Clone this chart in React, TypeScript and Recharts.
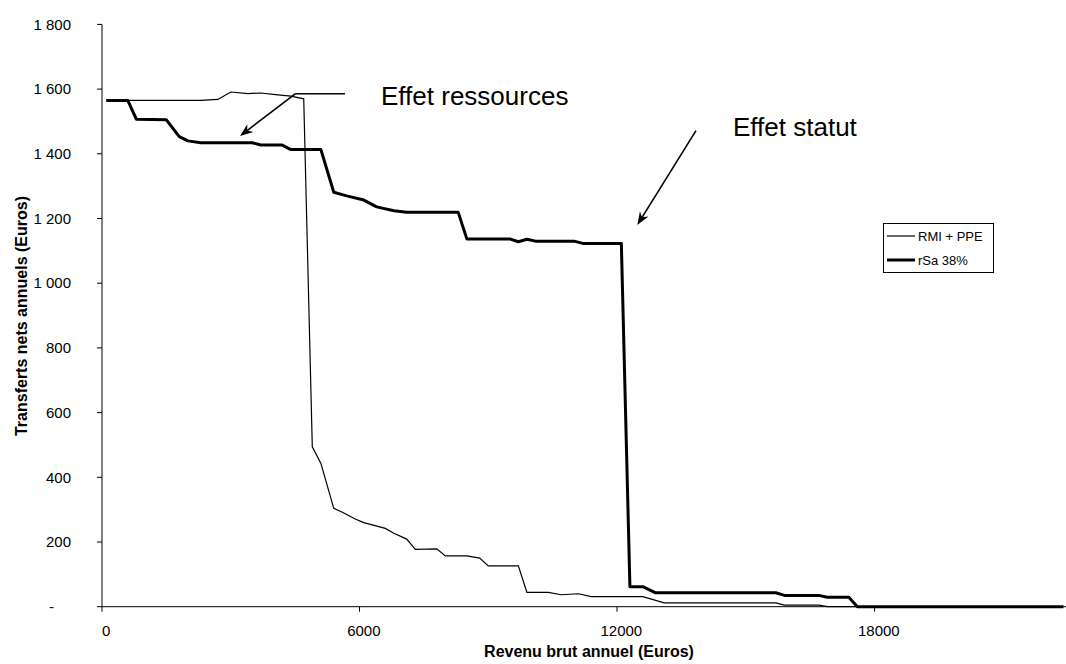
import { LineChart, Line, XAxis, YAxis, Legend } from 'recharts';

// RMI + PPE (thin line)
const rmiIncome = [0, 2200, 2600, 2900, 3300, 3600, 4000, 4300, 4600, 4800, 5000, 5300, 5500, 5800, 6000, 6500, 6700, 7000, 7200, 7700, 7900, 8400, 8700, 8900, 9600, 9800, 10300, 10600, 11000, 11300, 12500, 13000, 15600, 15800, 16600, 16800, 22300];
const rmiTransfer = [1565, 1565, 1568, 1591, 1586, 1588, 1582, 1578, 1570, 494, 443, 304, 292, 271, 260, 242, 227, 209, 177, 179, 157, 157, 150, 126, 126, 44, 44, 37, 40, 31, 31, 12, 12, 5, 5, 0, 0];

// rSa 38% (thick line)
const rsaIncome = [0, 500, 700, 1400, 1700, 1900, 2200, 3400, 3600, 4100, 4300, 5000, 5300, 5600, 6000, 6300, 6700, 7000, 8200, 8400, 9400, 9600, 9800, 10000, 10900, 11100, 12000, 12200, 12500, 12800, 15600, 15800, 16600, 16800, 17300, 17500, 22300];
const rsaTransfer = [1565, 1565, 1507, 1505, 1453, 1440, 1434, 1434, 1427, 1427, 1413, 1413, 1281, 1270, 1257, 1236, 1224, 1219, 1219, 1137, 1137, 1128, 1136, 1130, 1130, 1123, 1123, 62, 62, 43, 43, 35, 35, 29, 29, 0, 0];

const incomeTicks = [0, 6000, 12000, 18000];
const transferTicks = [0, 200, 400, 600, 800, 1000, 1200, 1400, 1600, 1800];

const rmiData = rmiIncome.map((x, i) => ({ x, y: rmiTransfer[i] }));
const rsaData = rsaIncome.map((x, i) => ({ x, y: rsaTransfer[i] }));

const FONT = '"Liberation Sans", Arial, sans-serif';
const W = 1066;
const H = 664;

function fmt(v: number) {
  if (v === 0) return '-';
  if (v >= 1000) return `${Math.floor(v / 1000)} ${String(v % 1000).padStart(3, '0')}`;
  return String(v);
}

function YTick({ x, y, payload }: any) {
  const v = payload.value;
  return (
    <g>
      <line x1={x - 5} y1={y} x2={x} y2={y} stroke="#000" />
      <text x={v === 0 ? x - 48 : x - 31} y={y} dy="0.35em" textAnchor="end" fontSize={15} fontFamily={FONT} fill="#000">
        {fmt(v)}
      </text>
    </g>
  );
}

function XTick({ x, y, payload }: any) {
  // ticks sit between categories, labels on the category
  return (
    <g>
      <line x1={x - 4.3} y1={y} x2={x - 4.3} y2={y + 5} stroke="#000" />
      <text x={x} y={y + 29} textAnchor="middle" fontSize={15} fontFamily={FONT} fill="#000">
        {payload.value}
      </text>
    </g>
  );
}

function LegendBox({ payload }: any) {
  return (
    <div style={{ border: '1px solid #000', background: '#fff', padding: '0 10px 0 3px', fontFamily: FONT, fontSize: 13, color: '#000' }}>
      {(payload ?? []).map((p: any) => (
        <div key={p.value} style={{ display: 'flex', alignItems: 'center', height: 24 }}>
          <svg width={31} height={10}>
            <line x1={0} y1={5} x2={28} y2={5} stroke="#000" strokeWidth={p.value === 'rSa 38%' ? 3 : 1.2} />
          </svg>
          <span>{p.value}</span>
        </div>
      ))}
    </div>
  );
}

function Arrow({ sx, sy, tx, ty }: { sx: number; sy: number; tx: number; ty: number }) {
  const len = Math.hypot(tx - sx, ty - sy);
  const ux = (tx - sx) / len;
  const uy = (ty - sy) / len;
  const nx = -uy;
  const ny = ux;
  const pts = [
    [tx, ty],
    [tx - 13 * ux + 5 * nx, ty - 13 * uy + 5 * ny],
    [tx - 9 * ux, ty - 9 * uy],
    [tx - 13 * ux - 5 * nx, ty - 13 * uy - 5 * ny],
  ]
    .map((p) => p.join(','))
    .join(' ');
  return (
    <g>
      <line x1={sx} y1={sy} x2={tx - 9 * ux} y2={ty - 9 * uy} stroke="#000" strokeWidth={1.6} />
      <polygon points={pts} fill="#000" />
    </g>
  );
}

export default function App() {
  return (
    <div style={{ position: 'absolute', left: 0, top: 0, width: W, height: H, background: '#fff' }}>
      <LineChart width={W} height={H} margin={{ top: 24.4, right: 0, bottom: 0, left: 0 }}>
        <XAxis
          type="number"
          dataKey="x"
          domain={[-100, 22360]}
          ticks={incomeTicks}
          interval={0}
          height={57.3}
          tickSize={0}
          tickMargin={0}
          tickLine={false}
          tick={<XTick />}
          axisLine={{ stroke: '#000' }}
        />
        <YAxis
          type="number"
          domain={[0, 1800]}
          ticks={transferTicks}
          interval={0}
          width={102}
          tickSize={0}
          tickMargin={0}
          tickLine={false}
          tick={<YTick />}
          axisLine={{ stroke: '#000' }}
        />
        <Legend
          layout="vertical"
          align="center"
          verticalAlign="middle"
          content={<LegendBox />}
          wrapperStyle={{ left: 883, top: 223, width: 'auto' }}
        />
        <Line data={rmiData} dataKey="y" name="RMI + PPE" type="linear" stroke="#000" strokeWidth={1.2} dot={false} isAnimationActive={false} />
        <Line data={rsaData} dataKey="y" name="rSa 38%" type="linear" stroke="#000" strokeWidth={3} dot={false} strokeLinejoin="round" isAnimationActive={false} />
      </LineChart>

      <svg width={W} height={H} style={{ position: 'absolute', left: 0, top: 0, pointerEvents: 'none' }}>
        <text x={21} y={316} transform="rotate(-90 21 316)" dy="0.35em" textAnchor="middle" fontSize={16} fontWeight="bold" fontFamily={FONT} fill="#000">
          Transferts nets annuels (Euros)
        </text>
        <text x={589} y={657} textAnchor="middle" fontSize={16} fontWeight="bold" fontFamily={FONT} fill="#000">
          Revenu brut annuel (Euros)
        </text>

        <text x={381} y={105} fontSize={26} fontFamily={FONT} fill="#000">Effet ressources</text>
        <line x1={295.5} y1={93.7} x2={345} y2={93.7} stroke="#000" strokeWidth={1.6} />
        <Arrow sx={295.5} sy={93.7} tx={240} ty={136} />

        <text x={733} y={136} fontSize={26} fontFamily={FONT} fill="#000">Effet statut</text>
        <Arrow sx={696} sy={130.7} tx={637.3} ty={225} />
      </svg>
    </div>
  );
}
